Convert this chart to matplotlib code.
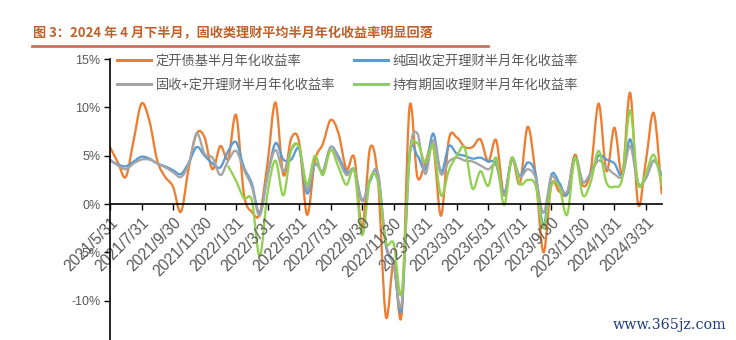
import numpy as np
import pandas as pd
import matplotlib
matplotlib.use("Agg")
import matplotlib.pyplot as plt
from matplotlib.path import Path
from matplotlib.patches import PathPatch
from matplotlib.lines import Line2D

plt.rcParams['font.family'] = ['Noto Sans CJK SC', 'DejaVu Sans']

# ---- data: half-month annualised yields (%), 2021/5/31 .. 2024/4/30 ----
months = pd.period_range("2021-06", "2024-04", freq="M")
periods = [pd.Timestamp("2021-05-31")]
for m in months:
    periods.append(pd.Timestamp(year=m.year, month=m.month, day=15))
    periods.append(m.to_timestamp(how="end").normalize())

tick_labels = ["2021/5/31", "2021/7/31", "2021/9/30", "2021/11/30", "2022/1/31",
               "2022/3/31", "2022/5/31", "2022/7/31", "2022/9/30", "2022/11/30",
               "2023/1/31", "2023/3/31", "2023/5/31", "2023/7/31", "2023/9/30",
               "2023/11/30", "2024/1/31", "2024/3/31"]

bond_fund = [5.9, 4.3, 2.8, 6.6, 10.4, 8.6, 4.5, 2.8, 1.8, -0.8,
             3.8, 7.3, 6.9, 3.6, 6.0, 4.7, 9.2, 1.0, -0.8, -1.0,
             4.3, 10.5, 3.0, 6.8, 6.4, -1.1, 4.5, 6.2, 8.7, 7.3,
             3.6, 4.8, -2.5, 5.8, 2.5, -11.6, -6.0, -11.4, 10.0, 2.8,
             4.3, 6.0, -1.2, 6.7, 6.9, 5.9, 5.9, 6.7, 4.4, 6.6,
             0.9, 4.8, 2.1, 8.0, 3.0, -5.0, 2.0, 1.3, 1.1, 5.1,
             1.9, 3.5, 10.4, 3.4, 7.9, 3.1, 11.5, 0.0, 4.5, 9.4,
             1.1]

pure_fixed = [4.5, 4.1, 3.9, 4.4, 4.9, 4.7, 4.2, 3.9, 3.5, 3.1,
              4.3, 5.9, 5.0, 4.2, 3.8, 5.5, 6.4, 3.8, 2.1, -1.0,
              3.0, 6.3, 4.6, 4.6, 5.7, 1.1, 4.1, 3.4, 5.9, 4.9,
              3.3, 3.5, 0.4, 2.4, 3.1, -4.3, -6.3, -10.8, 4.9, 5.0,
              3.6, 7.3, 3.3, 6.0, 5.2, 5.0, 4.7, 4.8, 4.4, 4.2,
              1.1, 4.7, 2.9, 4.3, 3.1, -2.2, 3.0, 2.2, 1.0, 4.8,
              2.3, 3.2, 5.0, 4.6, 4.2, 3.0, 6.7, 2.2, 2.7, 4.5,
              3.0]

fixed_plus = [4.6, 4.0, 3.6, 4.2, 4.6, 4.6, 4.2, 3.8, 3.3, 2.8,
              4.2, 7.3, 5.2, 4.8, 3.0, 4.5, 5.5, 3.5, 1.8, -1.2,
              3.0, 5.6, 3.4, 5.6, 5.9, 1.6, 4.2, 3.4, 5.9, 4.6,
              3.0, 3.6, 0.3, 2.6, 3.2, -4.0, -6.3, -10.3, 5.0, 7.3,
              3.1, 6.6, 3.1, 4.4, 4.8, 4.5, 4.4, 4.0, 3.6, 4.0,
              0.9, 4.5, 2.8, 3.6, 2.7, -0.9, 2.8, 1.8, 1.3, 4.7,
              2.3, 3.2, 4.5, 3.8, 3.1, 2.9, 6.0, 2.1, 2.7, 4.5,
              3.1]

holding = [None] * 15 + [
              3.9, 2.4, 0.6, 0.4, -5.4,
              1.2, 4.5, 0.9, 5.6, 5.9, 2.0, 5.0, 3.0, 5.6, 3.8,
              2.0, 3.4, -3.2, 2.6, 2.3, -3.9, -4.1, -9.2, 4.8, 6.3,
              4.3, 6.0, 0.9, 3.5, 5.0, 5.8, 1.6, 3.4, 1.9, 4.8,
              -0.1, 4.8, 2.1, 2.5, 1.9, -2.5, 1.9, 1.8, -1.1, 4.8,
              0.9, 2.3, 5.5, 2.2, 1.8, 2.7, 9.7, 2.1, 3.2, 5.1,
              2.0]

series = [
    ("定开债基半月年化收益率", bond_fund, "#ED7D31"),
    ("纯固收定开理财半月年化收益率", pure_fixed, "#5B9BD5"),
    ("固收+定开理财半月年化收益率", fixed_plus, "#A5A5A5"),
    ("持有期固收理财半月年化收益率", holding, "#92D050"),
]


def smooth_path(x, y):
    """Cubic Bezier path through the points (Catmull-Rom style smoothing)."""
    pts = np.column_stack([x, y]).astype(float)
    n = len(pts)
    verts = [pts[0]]
    codes = [Path.MOVETO]
    for i in range(n - 1):
        p0 = pts[i - 1] if i > 0 else pts[i]
        p1 = pts[i]
        p2 = pts[i + 1]
        p3 = pts[i + 2] if i + 2 < n else pts[i + 1]
        verts += [p1 + (p2 - p0) / 6.0, p2 - (p3 - p1) / 6.0, p2]
        codes += [Path.CURVE4] * 3
    return Path(verts, codes)


W, H = 736, 340
fig = plt.figure(figsize=(W / 100, H / 100), dpi=100)
fig.patch.set_facecolor("white")

# title and rule beneath it
fig.text(33 / W, 1 - 33 / H, "图 3：2024 年 4 月下半月，固收类理财平均半月年化收益率明显回落",
         fontsize=9.45, color="#C0602A", fontweight="bold", ha="left", va="center")
fig.add_artist(Line2D([32 / W, 488 / W], [1 - 46 / H, 1 - 46 / H],
                      color="#C8735A", lw=2.0, transform=fig.transFigure))

ax = fig.add_axes([110 / W, 0, (661.7 - 110) / W, (H - 59) / H])
ax.set_xlim(0, len(periods) - 1)
ax.set_ylim(-14.05, 15)

xs = np.arange(len(periods))
handles = {}
for name, vals, color in series:
    v = np.array([np.nan if a is None else a for a in vals], dtype=float)
    ok = ~np.isnan(v)
    path = smooth_path(xs[ok], v[ok])
    ax.add_patch(PathPatch(path, facecolor="none", edgecolor=color, lw=1.65,
                           joinstyle="round", capstyle="round"))
    handles[name] = Line2D([], [], color=color, lw=2.2)

for s in ["top", "right"]:
    ax.spines[s].set_visible(False)
ax.spines["bottom"].set_position(("data", 0))
for s in ["left", "bottom"]:
    ax.spines[s].set_color("black")
    ax.spines[s].set_linewidth(1.2)

ax.set_yticks([-10, -5, 0, 5, 10, 15])
ax.set_yticklabels([f"{t}%" for t in [-10, -5, 0, 5, 10, 15]],
                   family="Liberation Sans", fontsize=9, color="#595959")
ax.set_xticks(np.arange(0, len(periods), 4))
ax.set_xticklabels(tick_labels, rotation=45, ha="right", va="top",
                   rotation_mode="anchor", family="Liberation Sans",
                   fontsize=11.2, color="#595959")
ax.tick_params(axis="both", direction="out", length=4, width=1.0, color="black")
ax.tick_params(axis="y", pad=3)
ax.tick_params(axis="x", pad=4)
ax.patch.set_alpha(0)

order = [series[0][0], series[2][0], series[1][0], series[3][0]]
leg = fig.legend([handles[k] for k in order], order, ncol=2, frameon=False,
                 loc="upper left", bbox_to_anchor=(117 / W, 1 - 55 / H),
                 borderaxespad=0, borderpad=0, handlelength=2.6,
                 handletextpad=0.35, columnspacing=1.4, labelspacing=0.8,
                 prop={"size": 9.5})
for t in leg.get_texts():
    t.set_color("#595959")

fig.text(670 / W, 1 - 325 / H, "www.365jz.com", ha="center", va="center",
         fontsize=10.3, color="#1F3F7F", family="DejaVu Serif")

fig.savefig("out.png", dpi=100, facecolor="white")
